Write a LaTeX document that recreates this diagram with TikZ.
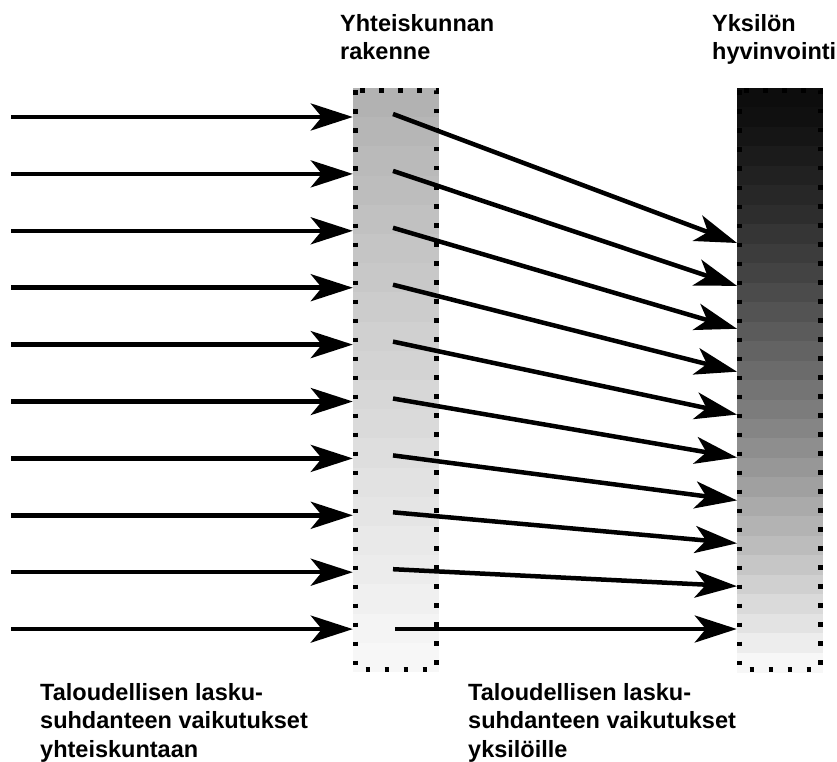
\documentclass[tikz,border=0pt]{standalone}
\usepackage{fontspec}
\setmainfont{Liberation Sans}
\usetikzlibrary{arrows.meta}
\begin{document}
\begin{tikzpicture}[x=1pt,y=-1pt,
  arr/.style={line width=4.5pt, -{Stealth[length=42pt,width=27pt,inset=11pt]}},
  lbl/.style={anchor=north west, inner sep=0pt, align=left, font=\fontsize{23.5}{28.5}\selectfont\bfseries},
  dotborder/.style={line width=4.5pt, dash pattern=on 4.5pt off 14.5pt},
  colbox/.style={draw=none, inner sep=0pt, minimum width=86pt, minimum height=584pt}]
\useasboundingbox (0,0) rectangle (837,762);
% middle column bands
\foreach \i in {0,...,19}{
  \pgfmathsetmacro\pc{30-\i*27/19}
  \fill[black!\pc] (353,{88+\i*29.2}) rectangle (439,{88+(\i+1)*29.2+0.4});
}
% right column bands
\foreach \i in {0,...,29}{
  \pgfmathsetmacro\pc{95-92*(\i/29)^1.25}
  \fill[black!\pc] (737,{88+\i*19.47}) rectangle (823,{88+(\i+1)*19.47+0.4});
}
\node[colbox] (mid) at (396,380) {};
\node[colbox] (rgt) at (780,380) {};
\draw[dotborder] (355.5,90.5) rectangle (436.5,669.5);
\draw[dotborder] (739.5,90.5) rectangle (820.5,669.5);
% left arrows
\foreach \i in {0,...,9}{
  \pgfmathsetmacro\ya{117+56.9*\i}
  \coordinate (a\i) at (11,\ya);
  \draw[arr] (a\i) -- (mid.west |- a\i);
}
% diagonal arrows
\foreach \i in {0,...,8}{
  \pgfmathsetmacro\yc{114+56.9*\i}
  \pgfmathsetmacro\yd{243+42.9*\i}
  \coordinate (c\i) at (393,\yc);
  \coordinate (d\i) at (737,\yd);
  \draw[arr] (c\i) -- (d\i);
}
\coordinate (c9) at (395,629);
\draw[arr] (c9) -- (rgt.west |- c9);
% labels
\node[lbl] (t1) at (340,14) {Yhteiskunnan\\rakenne};
\node[lbl] (t2) at (712,14) {Yksilön\\hyvinvointi};
\node[lbl] (t3) at (40,683) {Taloudellisen lasku-\\suhdanteen vaikutukset\\yhteiskuntaan};
\node[lbl] (t4) at (468,683) {Taloudellisen lasku-\\suhdanteen vaikutukset\\yksilöille};
\end{tikzpicture}
\end{document}
